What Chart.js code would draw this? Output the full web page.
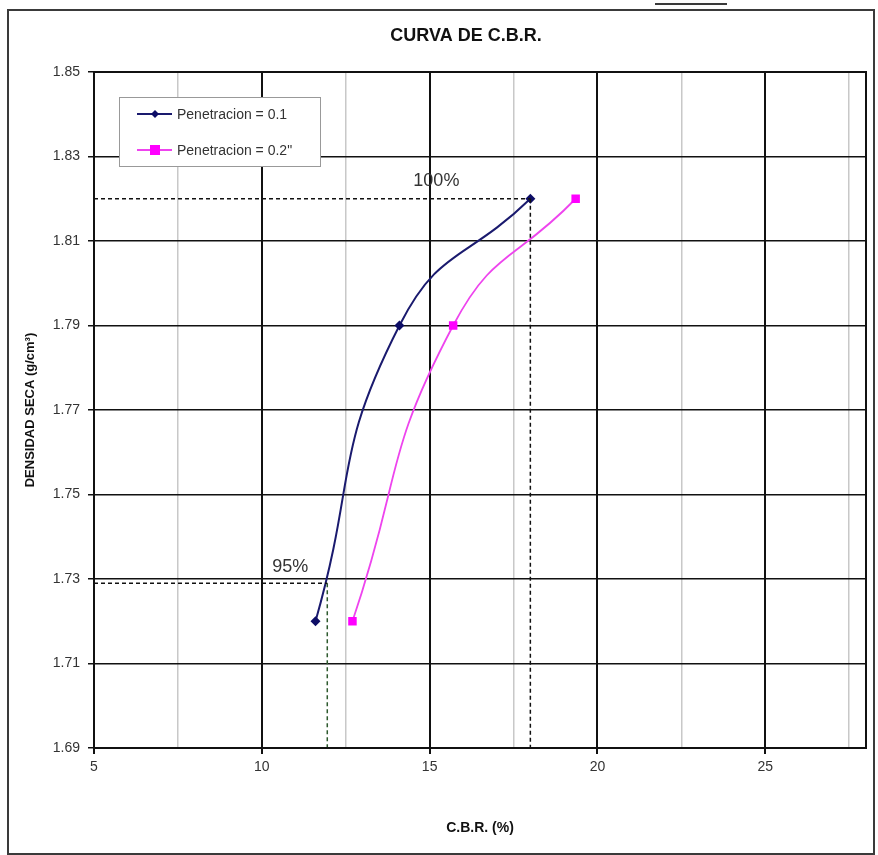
<!DOCTYPE html>
<html>
<head>
<meta charset="utf-8">
<script src="https://cdn.jsdelivr.net/npm/chart.js@4/dist/chart.umd.min.js"></script>
<style>
html,body{margin:0;padding:0;background:#fff;}
#wrap{width:878px;height:855px;position:relative;}
</style>
</head>
<body>
<div id="wrap"><canvas id="c" width="878" height="855"></canvas></div>
<script>
// ---- data ----
const cbr01 = [11.6, 14.1, 18.0];
const dens01 = [1.72, 1.79, 1.82];
const cbr02 = [12.7, 15.7, 19.35];
const dens02 = [1.72, 1.79, 1.82];
const seriesNames = ['Penetracion = 0.1', 'Penetracion = 0.2"'];
const densMax = 1.82;
const dens95 = 1.729;
const cbrAt100 = 18.0;
const cbrAt95 = 11.95;
const yTicks = [1.69, 1.71, 1.73, 1.75, 1.77, 1.79, 1.81, 1.83, 1.85];
const xTicks = [5, 7.5, 10, 12.5, 15, 17.5, 20, 22.5, 25, 27.5];
const xLabelTicks = [5, 10, 15, 20, 25];
const chartTitle = 'CURVA DE C.B.R.';
const xTitle = 'C.B.R. (%)';
const yTitle = 'DENSIDAD SECA (g/cm³)';
const pctLabels = ['100%', '95%'];

const pts = (xs, ys) => xs.map((x, i) => ({x: x, y: ys[i]}));
const FONT = 'Arial, "Liberation Sans", sans-serif';
const isMajor = c => c.tick && xLabelTicks.includes(c.tick.value);

const framePlugin = {
  id: 'frame',
  beforeDraw(chart) {
    const ctx = chart.ctx;
    ctx.save();
    ctx.fillStyle = '#fff';
    ctx.fillRect(0, 0, chart.width, chart.height);
    ctx.strokeStyle = '#3a3a3a';
    ctx.lineWidth = 2;
    ctx.strokeRect(8, 10, 866, 844);
    ctx.beginPath();
    ctx.moveTo(655, 4); ctx.lineTo(727, 4);
    ctx.stroke();
    ctx.restore();
  },
  afterDraw(chart) {
    const ctx = chart.ctx;
    const a = chart.chartArea;
    const xs = chart.scales.x, ys = chart.scales.y;
    ctx.save();
    // plot frame
    ctx.strokeStyle = '#111';
    ctx.lineWidth = 2;
    ctx.strokeRect(a.left, a.top, a.right - a.left, a.bottom - a.top);
    // titles
    ctx.fillStyle = '#111';
    ctx.textAlign = 'center';
    ctx.textBaseline = 'middle';
    ctx.font = 'bold 18px ' + FONT;
    ctx.fillText(chartTitle, 466, 36);
    ctx.font = 'bold 14px ' + FONT;
    ctx.fillText(xTitle, (a.left + a.right) / 2, 828);
    ctx.save();
    ctx.translate(30, (a.top + a.bottom) / 2);
    ctx.rotate(-Math.PI / 2);
    ctx.font = 'bold 13px ' + FONT;
    ctx.fillText(yTitle, 0, 0);
    ctx.restore();
    // percentage labels
    ctx.font = '18px ' + FONT;
    ctx.fillStyle = '#333';
    ctx.fillText(pctLabels[0], xs.getPixelForValue(15.2), ys.getPixelForValue(densMax) - 18);
    ctx.fillText(pctLabels[1], xs.getPixelForValue(10.85), ys.getPixelForValue(dens95) - 16);
    // legend
    const lx = 119, ly = 97, lw = 201, lh = 69;
    ctx.fillStyle = '#fff';
    ctx.fillRect(lx, ly, lw, lh);
    ctx.strokeStyle = '#999';
    ctx.lineWidth = 1;
    ctx.strokeRect(lx + 0.5, ly + 0.5, lw, lh);
    const rows = [
      {y: 114, color: '#1a1a6e', mcolor: '#0d0d66', marker: 'diamond'},
      {y: 150, color: '#ee44ee', mcolor: '#ff00ff', marker: 'square'}
    ];
    rows.forEach((r, i) => {
      ctx.strokeStyle = r.color;
      ctx.lineWidth = 2;
      ctx.beginPath(); ctx.moveTo(137, r.y); ctx.lineTo(172, r.y); ctx.stroke();
      ctx.fillStyle = r.mcolor;
      if (r.marker === 'diamond') {
        ctx.beginPath();
        ctx.moveTo(155, r.y - 4); ctx.lineTo(159, r.y); ctx.lineTo(155, r.y + 4); ctx.lineTo(151, r.y);
        ctx.closePath(); ctx.fill();
      } else {
        ctx.fillRect(150, r.y - 5, 10, 10);
      }
      ctx.fillStyle = '#333';
      ctx.textAlign = 'left';
      ctx.font = '14px ' + FONT;
      ctx.fillText(seriesNames[i], 177, r.y + 1);
    });
    ctx.restore();
  }
};

const dashStyle = (color) => ({
  showLine: true, borderColor: color, borderWidth: 1.5, borderDash: [4, 3],
  pointRadius: 0, tension: 0, fill: false
});

new Chart(document.getElementById('c'), {
  type: 'scatter',
  data: {
    datasets: [
      Object.assign({data: [{x: 5, y: densMax}, {x: cbrAt100, y: densMax}]}, dashStyle('#111')),
      Object.assign({data: [{x: cbrAt100, y: densMax}, {x: cbrAt100, y: 1.69}]}, dashStyle('#111')),
      Object.assign({data: [{x: 5, y: dens95}, {x: cbrAt95, y: dens95}]}, dashStyle('#111')),
      Object.assign({data: [{x: cbrAt95, y: dens95}, {x: cbrAt95, y: 1.69}]}, dashStyle('#2e5a2e')),
      {
        label: seriesNames[0], data: pts(cbr01, dens01), showLine: true,
        borderColor: '#1a1a6e', backgroundColor: '#0d0d66', borderWidth: 2,
        pointStyle: 'rectRot', pointRadius: 5, pointBorderWidth: 0, tension: 0.5
      },
      {
        label: seriesNames[1], data: pts(cbr02, dens02), showLine: true,
        borderColor: '#ee44ee', backgroundColor: '#ff00ff', borderWidth: 1.8,
        pointStyle: 'rect', pointRadius: 6, pointBorderWidth: 0, tension: 0.5
      }
    ]
  },
  options: {
    responsive: false,
    animation: false,
    layout: {padding: {left: 14, top: 72, right: 12, bottom: 0}},
    plugins: {legend: {display: false}, tooltip: {enabled: false}, title: {display: false}},
    scales: {
      x: {
        type: 'linear', min: 5, max: 28,
        afterFit: s => { s.height = 107; },
        afterBuildTicks: s => { s.ticks = xTicks.map(v => ({value: v})); },
        grid: {
          color: c => isMajor(c) ? '#111' : '#c8c8c8',
          tickColor: c => isMajor(c) ? '#111' : 'rgba(0,0,0,0)',
          lineWidth: c => isMajor(c) ? 2 : 1.5,
          tickLength: 6
        },
        border: {color: '#111', width: 2},
        ticks: {
          autoSkip: false, maxRotation: 0, padding: 5, color: '#333',
          font: {family: FONT, size: 14},
          callback: v => xLabelTicks.includes(v) ? String(v) : ''
        }
      },
      y: {
        type: 'linear', min: 1.69, max: 1.85,
        afterFit: s => { s.width = 80; },
        afterBuildTicks: s => { s.ticks = yTicks.map(v => ({value: v})); },
        grid: {color: '#111', lineWidth: 1.5, tickLength: 6},
        border: {color: '#111', width: 2},
        ticks: {
          autoSkip: false, padding: 8, color: '#333',
          font: {family: FONT, size: 14},
          callback: v => v.toFixed(2)
        }
      }
    }
  },
  plugins: [framePlugin]
});
</script>
</body>
</html>
